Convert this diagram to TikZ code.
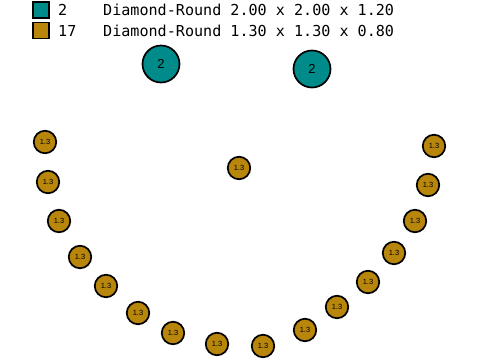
\documentclass[tikz,border=0pt]{standalone}
\usepackage{fontspec}
\setmainfont{Liberation Sans}
\newfontfamily\legendfont{DejaVu Sans Mono}
\definecolor{tealc}{RGB}{0,139,139}
\definecolor{goldc}{RGB}{184,134,11}
\begin{document}
\begin{tikzpicture}[x=1pt,y=-1pt,
  bigst/.style={circle,draw=black,line width=1.7pt,fill=tealc,minimum size=37pt,inner sep=0pt,font=\fontsize{13}{13}\selectfont},
  smallst/.style={circle,draw=black,line width=1.7pt,fill=goldc,minimum size=22.5pt,inner sep=0pt,font=\fontsize{7.5}{7.5}\selectfont},
  legbox/.style={draw=black,line width=1.2pt,minimum size=16pt,inner sep=0pt},
  legtext/.style={anchor=west,inner sep=0pt,font=\legendfont\fontsize{15.1}{16}\selectfont}]
\useasboundingbox (0,0) rectangle (480,360);
% legend
\node[legbox,fill=tealc] (k1) at (41,10) {};
\node[legbox,fill=goldc] (k2) at (41,30.5) {};
\node[legtext] (n1) at (58,10) {2};
\node[legtext] (n2) at (58,30.5) {17};
\node[legtext] (t1) at (103,10) {Diamond-Round 2.00 x 2.00 x 1.20};
\node[legtext] (t2) at (103,30.5) {Diamond-Round 1.30 x 1.30 x 0.80};
% big stones
\node[bigst] (b1) at (161,64) {2};
\node[bigst] (b2) at (312,69) {2};
% small stones
\node[smallst] (c0) at (239,168) {1.3};
\node[smallst] (s1) at (45,142) {1.3};
\node[smallst] (s2) at (48,182) {1.3};
\node[smallst] (s3) at (59,221) {1.3};
\node[smallst] (s4) at (80,257) {1.3};
\node[smallst] (s5) at (106,286) {1.3};
\node[smallst] (s6) at (138,313) {1.3};
\node[smallst] (s7) at (173,333) {1.3};
\node[smallst] (s8) at (217,344) {1.3};
\node[smallst] (s9) at (263,346) {1.3};
\node[smallst] (s10) at (305,330) {1.3};
\node[smallst] (s11) at (337,307) {1.3};
\node[smallst] (s12) at (368,282) {1.3};
\node[smallst] (s13) at (394,253) {1.3};
\node[smallst] (s14) at (415,221) {1.3};
\node[smallst] (s15) at (428,185) {1.3};
\node[smallst] (s16) at (434,146) {1.3};
\end{tikzpicture}
\end{document}
